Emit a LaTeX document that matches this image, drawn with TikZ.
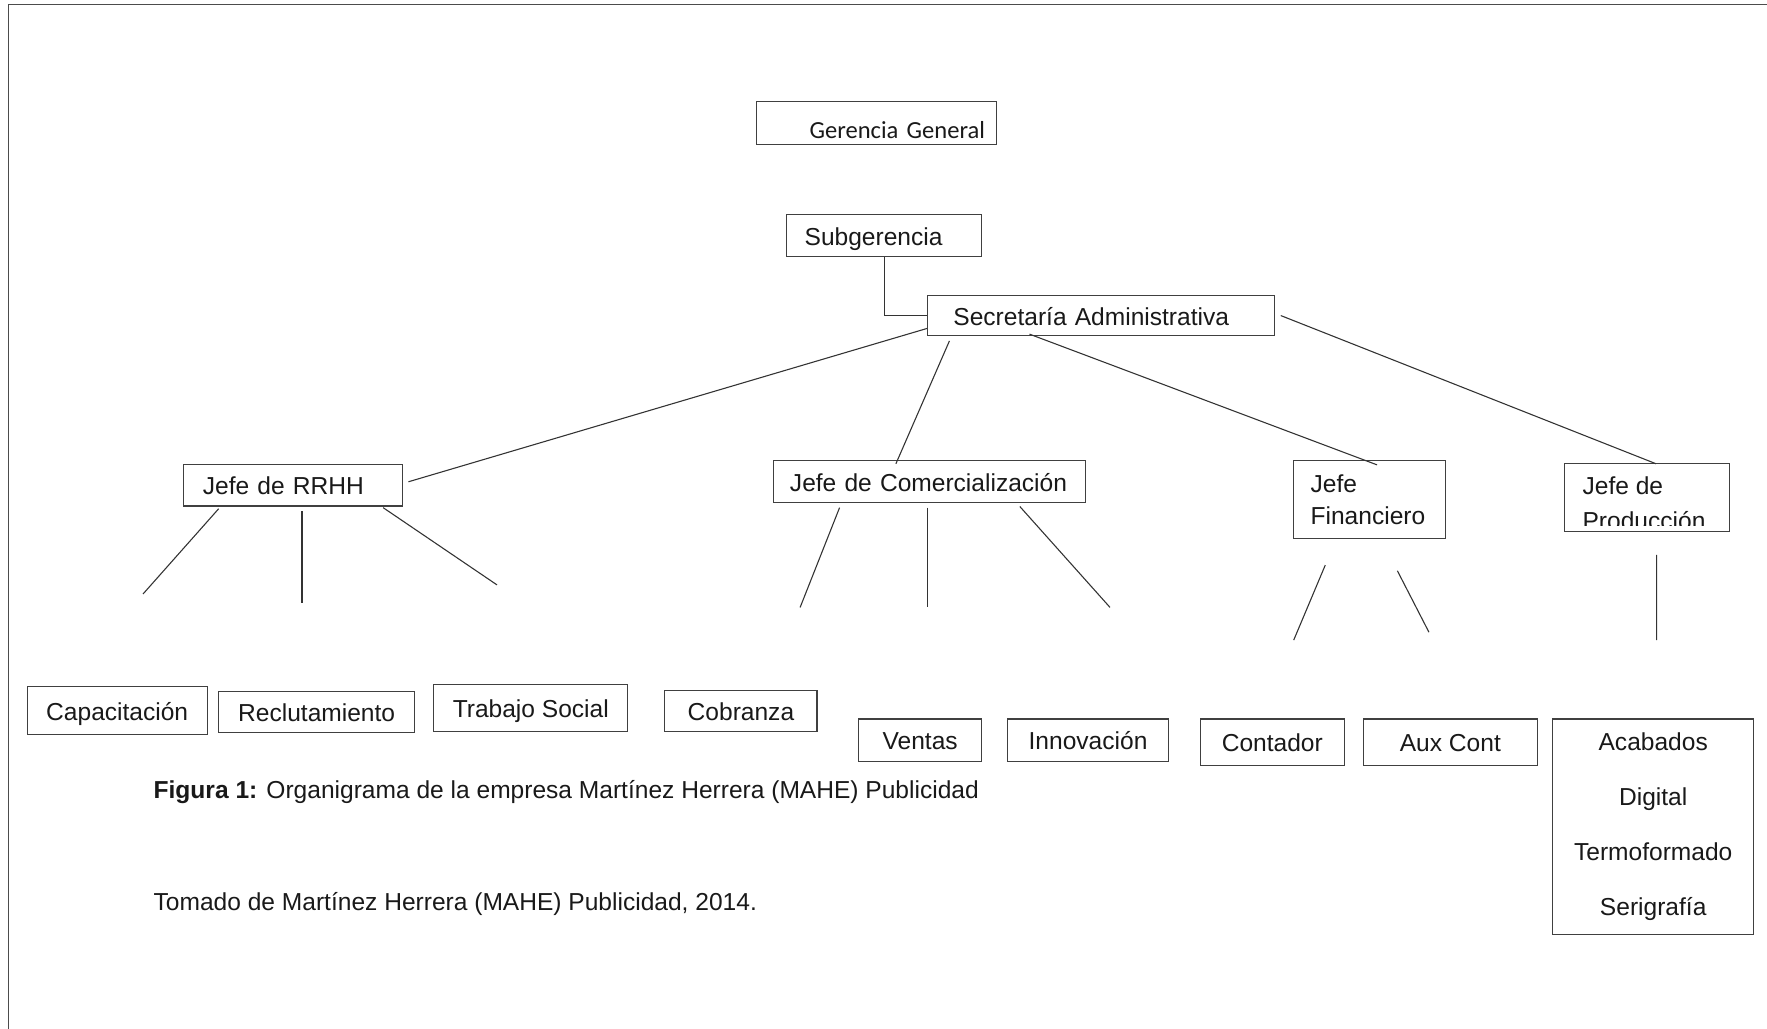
\documentclass[tikz,border=0pt]{standalone}
\usepackage{fontspec}
\setmainfont{Liberation Sans}
\newfontfamily\calibri{Carlito}
\usepackage{tikz}
\usetikzlibrary{calc}
\tikzset{
  borde/.style={draw=black!75, line width=0.55pt, rectangle, inner sep=0pt,
    text=black!90, font=\fontsize{12.4}{16.5}\selectfont},
  caja/.style={borde, text height=4.2mm, text depth=0.8mm},
  linea/.style={draw=black!80, line width=0.55pt},
  pie/.style={anchor=base west, inner sep=0pt, text=black!90, font=\fontsize{12.4}{15}\selectfont}
}

\begin{document}
\begin{tikzpicture}[x=0.2mm, y=-0.2mm]
    \useasboundingbox (0,0) rectangle (1568,913);
    % Page frame (top and left only)
    \draw[black!70, line width=0.7pt] (1568,4) -- (7.5,4) -- (7.5,913);
    % Top levels
    \node[caja, align=right, text width=38.6mm, inner xsep=2mm, text height=6.6mm, text depth=1mm] (gg) at (777.5,109) {\calibri Gerencia General};
    \node[caja, align=left, text width=28.2mm, inner xsep=3.2mm, minimum height=7.6mm] (sub) at (784.5,209) {Subgerencia};
    \node[caja, align=left, text width=52.4mm, inner xsep=4.6mm, minimum height=7.2mm] (sec) at (977,280) {Secretaría Administrativa};
    % Jefes
    \node[caja, align=left, text width=32mm, inner xsep=3.4mm, minimum height=7.4mm] (rrhh) at (260,430.5) {Jefe de RRHH};
    \node[caja, align=left, text width=49.4mm, inner xsep=3mm, minimum height=7.4mm] (com) at (824.5,427.5) {Jefe de Comercialización};
    \node[borde, align=left, text width=21mm, inner xsep=3mm, minimum height=13.8mm] (fin) at (1215.5,443.5) {Jefe\\Financiero};
    \node[borde, minimum width=29.4mm, minimum height=12.2mm] (prod) at (1461.5,441.5) {};
    \begin{scope}
        \clip (prod.north west) rectangle ($(prod.south east)+(0,-6)$);
        \node[anchor=base west, align=left, inner sep=0pt, text=black!90, font=\fontsize{12.4}{17.6}\selectfont] (prodtxt) at (1404,470) {Jefe de\\Producción};
    \end{scope}
    % Areas
    \node[caja, minimum width=32mm, minimum height=8.6mm] (capa) at (104,630.5) {Capacitación};
    \node[caja, minimum width=34.8mm, minimum height=7.2mm] (recl) at (281,632) {Reclutamiento};
    \node[caja, minimum width=34.4mm, minimum height=8.4mm] (trab) at (471,628) {Trabajo Social};
    \node[caja, minimum width=27mm, minimum height=7.2mm] (cobr) at (657.5,631) {Cobranza};
    \node[caja, minimum width=21.8mm, minimum height=7.6mm] (vent) at (816.5,657) {Ventas};
    \node[caja, minimum width=28.6mm, minimum height=7.6mm] (inno) at (965.5,657) {Innovación};
    \node[caja, minimum width=25.6mm, minimum height=8.2mm] (cont) at (1129,658.5) {Contador};
    \node[caja, minimum width=30.8mm, minimum height=8.2mm] (aux) at (1287,658.5) {Aux Cont};
    \node[borde, align=center, minimum width=35.6mm, minimum height=38.2mm, font=\fontsize{12.4}{27.9}\selectfont] (lista) at (1467,733.5) {Acabados\\Digital\\Termoformado\\Serigrafía};
    % Connectors from the secretary
    \draw[linea] (sub.south) |- (sec.west);
    \draw[linea] ($(sec.south west)+(0,-7)$) -- ($(rrhh.east)+(5,-3)$);
    \draw[linea] ($(sec.south west)+(20,4)$) -- ($(com.north)+(-29.5,3)$);
    \draw[linea] ($(sec.south west)+(91,-2)$) -- ($(fin.north)+(6.5,4)$);
    \draw[linea] ($(sec.east)+(5,0)$) -- ($(prod.north)+(8,1)$);
    % Loose ends under the jefes
    \coordinate (rh1) at (127,527);
    \coordinate (rh2) at (268,535);
    \coordinate (rh3) at (441,519);
    \coordinate (cm1) at (710,539);
    \coordinate (cm2) at (823,539);
    \coordinate (cm3) at (985,539);
    \coordinate (fn1) at (1148,568);
    \coordinate (fn2) at (1268,561);
    \coordinate (pr1) at (1470,568);
    \draw[linea] ($(rrhh.south)+(-66,2)$) -- (rh1);
    \draw[linea] ($(rrhh.south)+(8,4)$) -- (rh2);
    \draw[linea] ($(rrhh.south)+(80,1)$) -- (rh3);
    \draw[linea] ($(com.south)+(-79.5,4)$) -- (cm1);
    \draw[linea] ($(com.south)+(-1.5,4)$) -- (cm2);
    \draw[linea] ($(com.south)+(80.5,3)$) -- (cm3);
    \draw[linea] ($(fin.south)+(-39.5,23)$) -- (fn1);
    \draw[linea] ($(fin.south)+(24.5,28)$) -- (fn2);
    \draw[linea] ($(prod.south)+(8.5,20)$) -- (pr1);
    % Caption
    \node[pie] (titulo) at (136,709) {\textbf{Figura 1:} Organigrama de la empresa Martínez Herrera (MAHE) Publicidad};
    \node[pie] (fuente) at (136,808) {Tomado de Martínez Herrera (MAHE) Publicidad, 2014.};
\end{tikzpicture}
\end{document}
